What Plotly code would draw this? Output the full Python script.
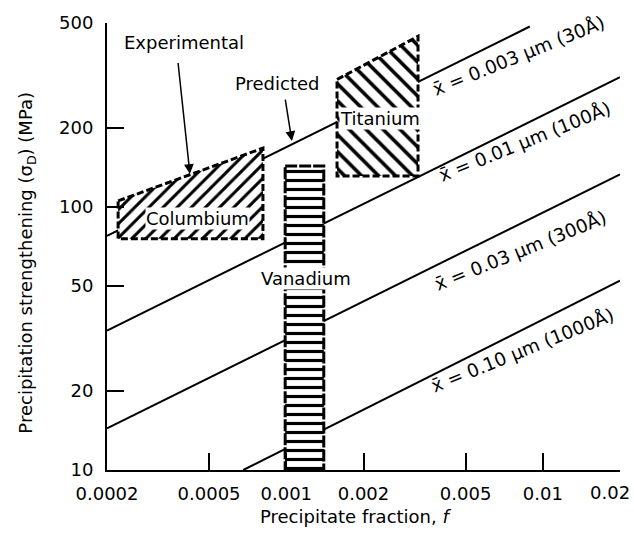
import numpy as np
import plotly.graph_objects as go

# Predicted strengthening lines for four mean particle sizes (log-log, endpoints)
size_labels = ["0.003 μm (30Å)", "0.01 μm (100Å)", "0.03 μm (300Å)", "0.10 μm (1000Å)"]
f_start = [0.0002, 0.0002, 0.0002, 0.00068]
f_end = [0.0089, 0.02, 0.02, 0.02]
sigma_start = [77.6, 33.9, 14.4, 10.0]
sigma_end = [485, 311, 133, 52.4]

# Experimental regions (precipitate fraction, strengthening in MPa)
columbium_f = [0.000221, 0.000811, 0.000811, 0.000221, 0.000221]
columbium_s = [105.4, 167.3, 75.6, 75.6, 105.4]
titanium_f = [0.001577, 0.003263, 0.003263, 0.001577, 0.001577]
titanium_s = [305, 445, 131, 131, 305]
vanadium_f = [0.00099, 0.0014, 0.0014, 0.00099, 0.00099]
vanadium_s = [143, 143, 10, 10, 143]

x_ticks = [0.0002, 0.0005, 0.001, 0.002, 0.005, 0.01, 0.02]
x_ticktext = ["0.0002", "0.0005", "0.001", "0.002", "0.005", "0.01", "0.02"]
y_ticks = [10, 20, 50, 100, 200, 500]
y_ticktext = ["10", "20", "50", "100", "200", "500"]

FONT = "DejaVu Sans"
lg = np.log10

fig = go.Figure()

for fs, fe, ss, se in zip(f_start, f_end, sigma_start, sigma_end):
    fig.add_trace(go.Scatter(
        x=[fs, fe], y=[ss, se], mode="lines",
        line=dict(color="black", width=2), showlegend=False, hoverinfo="skip"))

def region(fx, sy, shape, size, solidity, dash, width):
    fig.add_trace(go.Scatter(
        x=fx, y=sy, mode="lines", fill="toself", fillcolor="white",
        fillpattern=dict(shape=shape, fgcolor="black", bgcolor="white",
                         fgopacity=1, size=size, solidity=solidity),
        line=dict(color="black", width=width, dash=dash),
        showlegend=False, hoverinfo="skip"))

region(columbium_f, columbium_s, "/", 10, 0.3, "7px,3px", 3)
region(titanium_f, titanium_s, "\\", 12, 0.3, "7px,3px", 3)
region(vanadium_f, vanadium_s, "-", 9, 0.35, "12px,2px", 3)

annotations = []

def label(text, f, s, size=18, angle=0, bg=None):
    d = dict(x=lg(f), y=lg(s), xref="x", yref="y", text=text, showarrow=False,
             textangle=angle, font=dict(family=FONT, size=size, color="black"),
             xanchor="center", yanchor="middle", borderpad=0)
    if bg:
        d["bgcolor"] = bg
    annotations.append(d)

def arrow(f_tail, s_tail, f_head, s_head):
    annotations.append(dict(
        x=lg(f_head), y=lg(s_head), ax=lg(f_tail), ay=lg(s_tail),
        xref="x", yref="y", axref="x", ayref="y", text="",
        showarrow=True, arrowhead=2, arrowsize=1.3, arrowwidth=1.5,
        arrowcolor="black"))

label("Experimental", 0.000399, 422)
arrow(0.000378, 357, 0.000421, 133.4)
label("Predicted", 0.000928, 295)
arrow(0.000989, 259, 0.001052, 178)
label("Titanium", 0.00232, 217, bg="white")
label("Columbium", 0.000451, 90, bg="white")
label("Vanadium", 0.00119, 53.4, bg="white")

label_pos = [(0.00807, 376), (0.00852, 177.8), (0.00822, 68.1), (0.0083, 28.5)]
for txt, (f, s) in zip(size_labels, label_pos):
    label("x\u0304 = " + txt, f, s, size=18.5, angle=-22)

# Last x tick label sits inside the right edge of the figure
annotations.append(dict(
    x=0.9805, y=-0.0512, xref="paper", yref="paper", showarrow=False,
    text=x_ticktext[-1], font=dict(family=FONT, size=18, color="black"),
    xanchor="center", yanchor="middle"))

# Axis titles
annotations.append(dict(
    x=-0.155, y=0.465, xref="paper", yref="paper", showarrow=False,
    text="Precipitation strengthening (σ<sub>D</sub>) (MPa)", textangle=-90,
    font=dict(family=FONT, size=18, color="black"), xanchor="center", yanchor="middle"))
annotations.append(dict(
    x=0.484, y=-0.105, xref="paper", yref="paper", showarrow=False,
    text="Precipitate fraction, <i>f</i>",
    font=dict(family=FONT, size=18, color="black"), xanchor="center", yanchor="middle"))

axis_common = dict(
    type="log", showgrid=False, zeroline=False, showline=True, linecolor="black",
    linewidth=2, ticks="inside", ticklen=17, tickwidth=1.5, tickcolor="black",
    mirror=False, tickfont=dict(family=FONT, size=18, color="black"))

fig.update_layout(
    width=634, height=537,
    margin=dict(l=107, r=14, t=21, b=67),
    paper_bgcolor="white", plot_bgcolor="white",
    xaxis=dict(range=[lg(0.0002), lg(0.02) + 1e-6], tickvals=x_ticks,
               ticktext=x_ticktext[:-1] + [""], ticklabelstandoff=6, **axis_common),
    yaxis=dict(range=[1, lg(500) + 1e-6], tickvals=y_ticks, ticktext=y_ticktext,
               ticklabelstandoff=8, **axis_common),
    annotations=annotations,
    font=dict(family=FONT),
)

fig.write_html("out.html")
